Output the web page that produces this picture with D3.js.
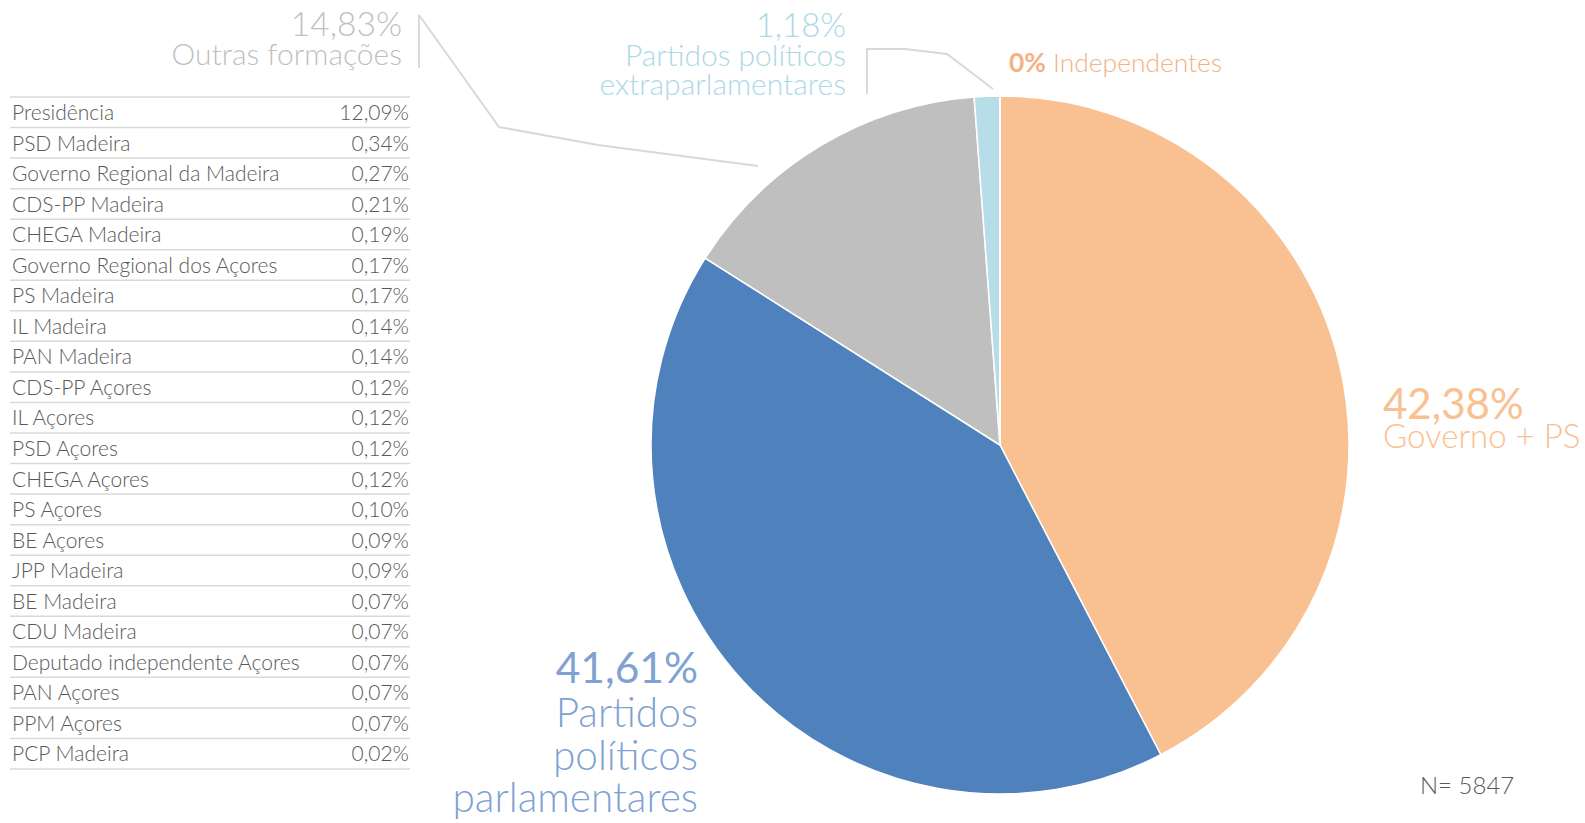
<!DOCTYPE html>
<html>
<head>
<meta charset="utf-8">
<script src="https://d3js.org/d3.v7.min.js"></script>
<style>
  body { margin: 0; background: #fff; }
  svg text { font-family: Lato, "Open Sans", sans-serif; font-weight: 300; }
</style>
</head>
<body>
<div id="chart-area"></div>
<script>
// slices of the pie, clockwise from 12 o'clock
const sliceNames = ['Governo + PS', 'Partidos políticos parlamentares', 'Outras formações', 'Partidos políticos extraparlamentares', 'Independentes']
const sliceValues = [42.38, 41.61, 14.83, 1.18, 0]
const sliceColors = ['#F9C191', '#4F81BD', '#BFBFBF', '#B7DDE8', '#F4B183']

// breakdown of "Outras formações"
const tableNames = ['Presidência', 'PSD Madeira', 'Governo Regional da Madeira', 'CDS-PP Madeira', 'CHEGA Madeira',
  'Governo Regional dos Açores', 'PS Madeira', 'IL Madeira', 'PAN Madeira', 'CDS-PP Açores', 'IL Açores',
  'PSD Açores', 'CHEGA Açores', 'PS Açores', 'BE Açores', 'JPP Madeira', 'BE Madeira', 'CDU Madeira',
  'Deputado independente Açores', 'PAN Açores', 'PPM Açores', 'PCP Madeira']
const tableValues = [12.09, 0.34, 0.27, 0.21, 0.19, 0.17, 0.17, 0.14, 0.14, 0.12, 0.12, 0.12, 0.12, 0.10,
  0.09, 0.09, 0.07, 0.07, 0.07, 0.07, 0.07, 0.02]

const total = 5847

const width = 1585, height = 823
const fmt = v => d3.format('.2f')(v).replace('.', ',') + '%'

let svg = d3.select('#chart-area')
  .append('svg')
  .attr('width', width)
  .attr('height', height)

// pie
const cx = 1000, cy = 445, r = 349
let pie = d3.pie().sort(null).value(d => d)
let arc = d3.arc().innerRadius(0).outerRadius(r)

svg.append('g')
  .attr('transform', `translate(${cx}, ${cy})`)
  .selectAll('path')
  .data(pie(sliceValues))
  .join('path')
  .attr('d', arc)
  .attr('fill', (d, i) => sliceColors[i])
  .attr('stroke', '#fff')
  .attr('stroke-width', 1.5)

// table
let y = d3.scaleBand()
  .domain(d3.range(tableNames.length))
  .range([97, 769])

let rows = svg.append('g').selectAll('g')
  .data(tableNames)
  .join('g')
  .attr('transform', (d, i) => `translate(0, ${y(i)})`)

rows.append('line')
  .attr('x1', 10).attr('x2', 410)
  .attr('y1', 0).attr('y2', 0)
  .attr('stroke', '#D9D9D9').attr('stroke-width', 1.5)

rows.append('text')
  .attr('x', 12).attr('y', 23)
  .attr('font-size', 21)
  .attr('font-weight', 400)
  .attr('fill', '#595959')
  .text(d => d)

rows.append('text')
  .attr('x', 409).attr('y', 23)
  .attr('text-anchor', 'end')
  .attr('font-size', 21)
  .attr('font-weight', 400)
  .attr('fill', '#595959')
  .text((d, i) => fmt(tableValues[i]))

svg.append('line')
  .attr('x1', 10).attr('x2', 410)
  .attr('y1', 769).attr('y2', 769)
  .attr('stroke', '#D9D9D9').attr('stroke-width', 1.5)

// leader lines
const leader = d3.line()
svg.append('path')
  .attr('d', leader([[419, 15], [419, 68]]) + leader([[419, 15], [499, 127], [598, 145], [758, 166]]))
  .attr('fill', 'none').attr('stroke', '#D9D9D9').attr('stroke-width', 2)
svg.append('path')
  .attr('d', leader([[867, 48], [867, 94]]) + leader([[867, 49], [905, 49], [947, 54], [993, 89]]))
  .attr('fill', 'none').attr('stroke', '#D9D9D9').attr('stroke-width', 2)

// labels
function label(x, anchor, lines, color) {
  let t = svg.append('text').attr('text-anchor', anchor).attr('fill', color)
  lines.forEach(l => {
    t.append('tspan')
      .attr('x', x).attr('y', l.y)
      .attr('font-size', l.size)
      .attr('font-weight', l.bold ? 400 : 300)
      .text(l.text)
  })
}

label(402, 'end', [
  { text: fmt(sliceValues[2]), y: 36, size: 33.5 },
  { text: sliceNames[2], y: 65, size: 30 }
], '#BFBFBF')

label(846, 'end', [
  { text: fmt(sliceValues[3]), y: 37, size: 33 },
  { text: 'Partidos políticos', y: 66, size: 30 },
  { text: 'extraparlamentares', y: 95, size: 30 }
], '#ADD8E6')

let ind = svg.append('text').attr('x', 1009).attr('y', 72).attr('font-size', 26.4).attr('fill', '#F4B183')
ind.append('tspan').attr('font-weight', 700).text(sliceValues[4] + '%')
ind.append('tspan').text(' ' + sliceNames[4])

label(1383, 'start', [
  { text: fmt(sliceValues[0]), y: 419, size: 42, bold: true },
  { text: sliceNames[0], y: 448, size: 33 }
], '#F9C191')

label(698, 'end', [
  { text: fmt(sliceValues[1]), y: 683, size: 42.5, bold: true },
  { text: 'Partidos', y: 727, size: 40.5 },
  { text: 'políticos', y: 770, size: 40.5 },
  { text: 'parlamentares', y: 812, size: 40.5 }
], '#7FA2D3')

svg.append('text')
  .attr('x', 1420).attr('y', 794)
  .attr('font-size', 24)
  .attr('fill', '#595959')
  .text('N= ' + total)
</script>
</body>
</html>
